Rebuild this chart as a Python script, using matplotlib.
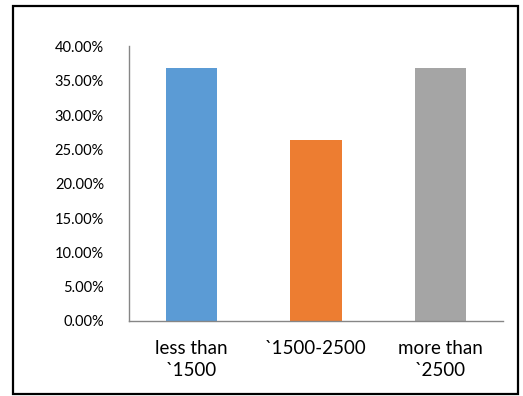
import matplotlib.pyplot as plt
from matplotlib.patches import Rectangle
from matplotlib.ticker import PercentFormatter

categories = ['less than\n`1500', '`1500-2500', 'more than\n`2500']
shares = [0.3684, 0.2632, 0.3684]
colors = ['#5b9bd5', '#ed7d31', '#a5a5a5']

plt.rcParams['font.family'] = ['Lato', 'DejaVu Sans']

fig = plt.figure(figsize=(5.23, 3.96), dpi=100)
ax = fig.add_axes([0.2467, 0.1894, 0.9618 - 0.2467, 0.8826 - 0.1894])

x = range(len(categories))
ax.bar(x, shares, width=0.41, color=colors)
ax.set_xlim(-0.5, 2.5)
ax.set_ylim(0, 0.40)
ax.set_yticks([i * 0.05 for i in range(9)])
ax.yaxis.set_major_formatter(PercentFormatter(1.0, decimals=2))
ax.set_xticks(list(x))
ax.set_xticklabels(categories, linespacing=1.35)

for side in ['top', 'right']:
    ax.spines[side].set_visible(False)
for side in ['left', 'bottom']:
    ax.spines[side].set_color('#868686')
    ax.spines[side].set_linewidth(1.0)
ax.tick_params(axis='both', length=0, colors='black')
ax.tick_params(axis='y', labelsize=10.5, pad=18)
ax.tick_params(axis='x', labelsize=13.5, pad=14)

# outer frame around the chart
fig.patches.append(Rectangle((13 / 523, 2 / 396), 505 / 523, 388 / 396,
                             transform=fig.transFigure, fill=False,
                             edgecolor='black', linewidth=1.6))

fig.savefig('out.png', dpi=100)
